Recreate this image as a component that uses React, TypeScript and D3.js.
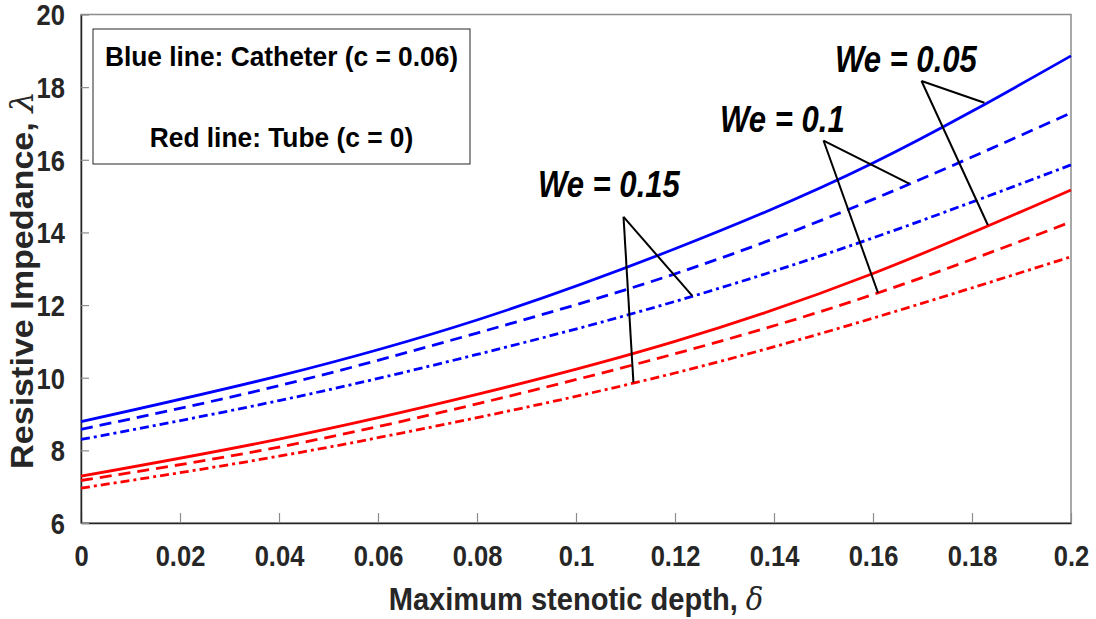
import React, { useEffect, useRef } from 'react';
import * as d3 from 'd3';

// stenotic depth samples
const delta = [0, 0.04, 0.08, 0.12, 0.16, 0.2];

// catheter (c = 0.06), blue
const catheterWe005 = [8.79, 10.05, 11.59, 13.55, 15.91, 18.86];
const catheterWe01 = [8.58, 9.78, 11.23, 12.86, 14.91, 17.29];
const catheterWe015 = [8.30, 9.37, 10.64, 12.10, 13.85, 15.86];

// tube (c = 0), red
const tubeWe005 = [7.29, 8.31, 9.54, 11.00, 12.87, 15.17];
const tubeWe01 = [7.17, 8.09, 9.28, 10.66, 12.29, 14.29];
const tubeWe015 = [6.96, 7.84, 8.90, 10.13, 11.64, 13.33];

const xTicks = [0, 0.02, 0.04, 0.06, 0.08, 0.1, 0.12, 0.14, 0.16, 0.18, 0.2];
const yTicks = [6, 8, 10, 12, 14, 16, 18, 20];

// annotations: label position, apex, and the two curves each one points at
const annotations = [
  { label: 'We = 0.05', text: [0.1523, 18.42], apex: [0.1698, 18.17], to: [[0.1825, catheterWe005], [0.1832, tubeWe005]] },
  { label: 'We = 0.1', text: [0.1291, 16.77], apex: [0.15, 16.53], to: [[0.1673, catheterWe01], [0.161, tubeWe01]] },
  { label: 'We = 0.15', text: [0.0923, 14.98], apex: [0.1096, 14.43], to: [[0.1235, catheterWe015], [0.1116, tubeWe015]] },
];

const FONT = '"Liberation Sans", Arial, sans-serif';

// the original uses a narrow font, so squeeze the glyphs sideways
function squeeze(sel: any, ratio: number) {
  sel.each(function (this: SVGTextElement) {
    const len = this.getComputedTextLength();
    d3.select(this).attr('textLength', len * ratio).attr('lengthAdjust', 'spacingAndGlyphs');
  });
}

// same thing for texts with tspans: scale along the text direction
function scaleTo(sel: any, target: number) {
  const len = sel.node().getComputedTextLength();
  sel.attr('transform', sel.attr('transform') + ` scale(${target / len}, 1)`);
}

function App() {
  const node = useRef<SVGSVGElement>(null);

  useEffect(() => {
    const width = 1096;
    const height = 619;
    const margin = { top: 14.5, right: 25, bottom: 96, left: 81 };

    const svg = d3.select(node.current);
    svg.selectAll('*').remove();

    const x = d3.scaleLinear().domain([0, 0.2]).range([margin.left, width - margin.right]);
    const y = d3.scaleLinear().domain([6, 20]).range([height - margin.bottom, margin.top]);

    // axes box
    svg.append('rect')
      .attr('x', x(0)).attr('y', y(20))
      .attr('width', x(0.2) - x(0)).attr('height', y(6) - y(20))
      .attr('fill', 'white').attr('stroke', '#8c8c8c').attr('stroke-width', 1.5);

    const xAxis = d3.axisBottom(x).tickValues(xTicks).tickSizeInner(-10).tickSizeOuter(0)
      .tickPadding(22).tickFormat(d => String(+d));
    const yAxis = d3.axisLeft(y).tickValues(yTicks).tickSizeInner(-8).tickSizeOuter(0)
      .tickPadding(16).tickFormat(d => String(d));

    const gx = svg.append('g').attr('transform', `translate(0, ${y(6)})`).call(xAxis);
    const gy = svg.append('g').attr('transform', `translate(${x(0)}, 0)`).call(yAxis);

    [gx, gy].forEach(g => {
      g.select('.domain').attr('stroke', '#262626').attr('stroke-width', 1.5);
      g.selectAll('.tick line').attr('stroke', '#8c8c8c').attr('stroke-width', 1.2);
      g.selectAll('.tick text')
        .attr('fill', '#262626')
        .style('font-family', FONT)
        .style('font-weight', 'bold')
        .style('font-size', '29px');
      squeeze(g.selectAll('.tick text'), 0.88);
    });
    gy.selectAll('.tick text').attr('dy', '0.36em');

    // curves
    const line = d3.line<number>()
      .x((d, i) => x(delta[i]))
      .y(d => y(d))
      .curve(d3.curveNatural);

    const series = [
      { values: catheterWe005, color: '#0000ff', dash: null },
      { values: catheterWe01, color: '#0000ff', dash: '12,7' },
      { values: catheterWe015, color: '#0000ff', dash: '9,4,3,4' },
      { values: tubeWe005, color: '#ff0000', dash: null },
      { values: tubeWe01, color: '#ff0000', dash: '12,7' },
      { values: tubeWe015, color: '#ff0000', dash: '9,4,3,4' },
    ];

    svg.append('g').selectAll('path')
      .data(series)
      .enter()
      .append('path')
        .attr('d', d => line(d.values))
        .attr('fill', 'none')
        .attr('stroke', d => d.color)
        .attr('stroke-width', 2.8)
        .attr('stroke-dasharray', d => d.dash);

    // value on a curve at some depth
    const valueAt = (vals: number[], dx: number) => d3.scaleLinear().domain(delta).range(vals)(dx);

    // annotations
    annotations.forEach(a => {
      const g = svg.append('g');
      a.to.forEach(([dx, vals]: any) => {
        g.append('line')
          .attr('x1', x(a.apex[0])).attr('y1', y(a.apex[1]))
          .attr('x2', x(dx)).attr('y2', y(valueAt(vals, dx)))
          .attr('stroke', 'black').attr('stroke-width', 2);
      });
      const t = g.append('text')
        .attr('x', x(a.text[0])).attr('y', y(a.text[1]))
        .style('font-family', FONT)
        .style('font-weight', 'bold')
        .style('font-style', 'italic')
        .style('font-size', '37px')
        .attr('fill', 'black')
        .text(a.label);
      squeeze(t, 0.84);
    });

    // legend box
    const legend = svg.append('g');
    legend.append('rect')
      .attr('x', 93).attr('y', 29).attr('width', 377).attr('height', 135)
      .attr('fill', 'white').attr('stroke', '#262626').attr('stroke-width', 1);
    const lt = legend.selectAll('text')
      .data(['Blue line: Catheter (c = 0.06)', 'Red line: Tube (c = 0)'])
      .enter()
      .append('text')
        .attr('x', 281.5)
        .attr('y', (d, i) => 66 + i * 81)
        .attr('text-anchor', 'middle')
        .style('font-family', FONT)
        .style('font-weight', 'bold')
        .style('font-size', '28px')
        .attr('fill', 'black')
        .text(d => d);
    squeeze(lt, 0.94);

    // axis titles
    const xt = svg.append('text')
      .attr('transform', `translate(${(x(0) + x(0.2)) / 2}, 610)`)
      .attr('text-anchor', 'middle')
      .attr('fill', '#262626')
      .style('font-family', FONT)
      .style('font-weight', 'bold')
      .style('font-size', '31px');
    xt.append('tspan').text('Maximum stenotic depth, ');
    xt.append('tspan').style('font-family', '"DejaVu Serif", serif').style('font-style', 'italic')
      .style('font-weight', 'normal').text('δ');
    scaleTo(xt, 375);

    const yt = svg.append('text')
      .attr('transform', `translate(33, 280) rotate(-90)`)
      .attr('text-anchor', 'middle')
      .attr('fill', '#262626')
      .style('font-family', FONT)
      .style('font-weight', 'bold')
      .style('font-size', '32px');
    yt.append('tspan').text('Resistive Impedance, ');
    yt.append('tspan').style('font-family', '"DejaVu Serif", serif').style('font-style', 'italic')
      .style('font-weight', 'normal').text('λ');
    scaleTo(yt, 378);
  }, []);

  return (
    <svg ref={node} width={1096} height={619}
      style={{ position: 'absolute', left: 0, top: 0, background: 'white' }} />
  );
}

export default App;
